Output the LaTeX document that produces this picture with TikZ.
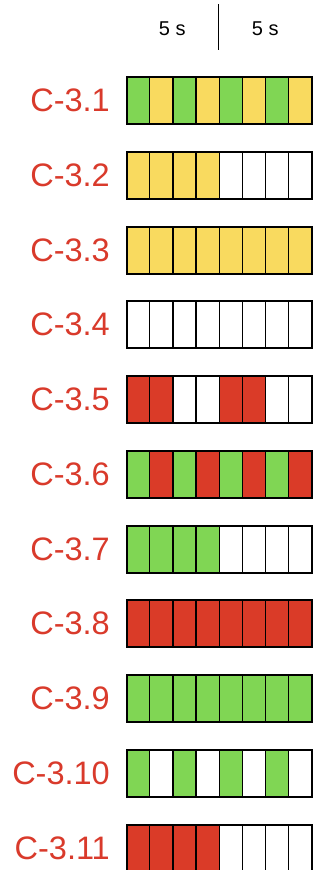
\documentclass[tikz,border=0pt]{standalone}
\usepackage{fontspec}
\setmainfont{Liberation Sans}
\definecolor{cg}{HTML}{80D654}
\definecolor{cy}{HTML}{F9DA5F}
\definecolor{cr}{HTML}{DA3B28}
\definecolor{cw}{HTML}{FFFFFF}
\definecolor{lab}{HTML}{D93A2B}
\tikzset{
  cell/.style={draw=black, line width=1.3pt, minimum width=23.125pt, minimum height=47pt, inner sep=0pt, outer sep=0pt},
  frame/.style={draw=black, line width=2pt},
  lbl/.style={text=lab, font=\fontsize{32.5}{32.5}\selectfont, anchor=east, inner sep=0pt},
  hdr/.style={font=\fontsize{20}{20}\selectfont, inner sep=0pt}
}
\begin{document}
\begin{tikzpicture}[x=1pt,y=-1pt]
\useasboundingbox (0,0) rectangle (323,870);
\node[hdr] (h1) at (172.3,29) {5 s};
\node[hdr] (h2) at (265.3,29) {5 s};
\coordinate (dt) at (218.7,4);
\coordinate (db) at (218.7,50);
\draw[line width=1.5pt] (dt) -- (db);
\foreach \lab/\pat [count=\r] in {
  C-3.1/{cg,cy,cg,cy,cg,cy,cg,cy},
  C-3.2/{cy,cy,cy,cy,cw,cw,cw,cw},
  C-3.3/{cy,cy,cy,cy,cy,cy,cy,cy},
  C-3.4/{cw,cw,cw,cw,cw,cw,cw,cw},
  C-3.5/{cr,cr,cw,cw,cr,cr,cw,cw},
  C-3.6/{cg,cr,cg,cr,cg,cr,cg,cr},
  C-3.7/{cg,cg,cg,cg,cw,cw,cw,cw},
  C-3.8/{cr,cr,cr,cr,cr,cr,cr,cr},
  C-3.9/{cg,cg,cg,cg,cg,cg,cg,cg},
  C-3.10/{cg,cw,cg,cw,cg,cw,cg,cw},
  C-3.11/{cr,cr,cr,cr,cw,cw,cw,cw}} {
  \pgfmathsetmacro{\yc}{100.5+(\r-1)*74.75}
  \node[lbl] (L\r) at (110,\yc) {\lab};
  \foreach \c [count=\k] in \pat {
    \pgfmathsetmacro{\xc}{126.7+(\k-0.5)*23.125}
    \node[cell, fill=\c] (c\r-\k) at (\xc,\yc) {};
  }
  \draw[frame] (c\r-1.north west) rectangle (c\r-8.south east);
}
\end{tikzpicture}
\end{document}
